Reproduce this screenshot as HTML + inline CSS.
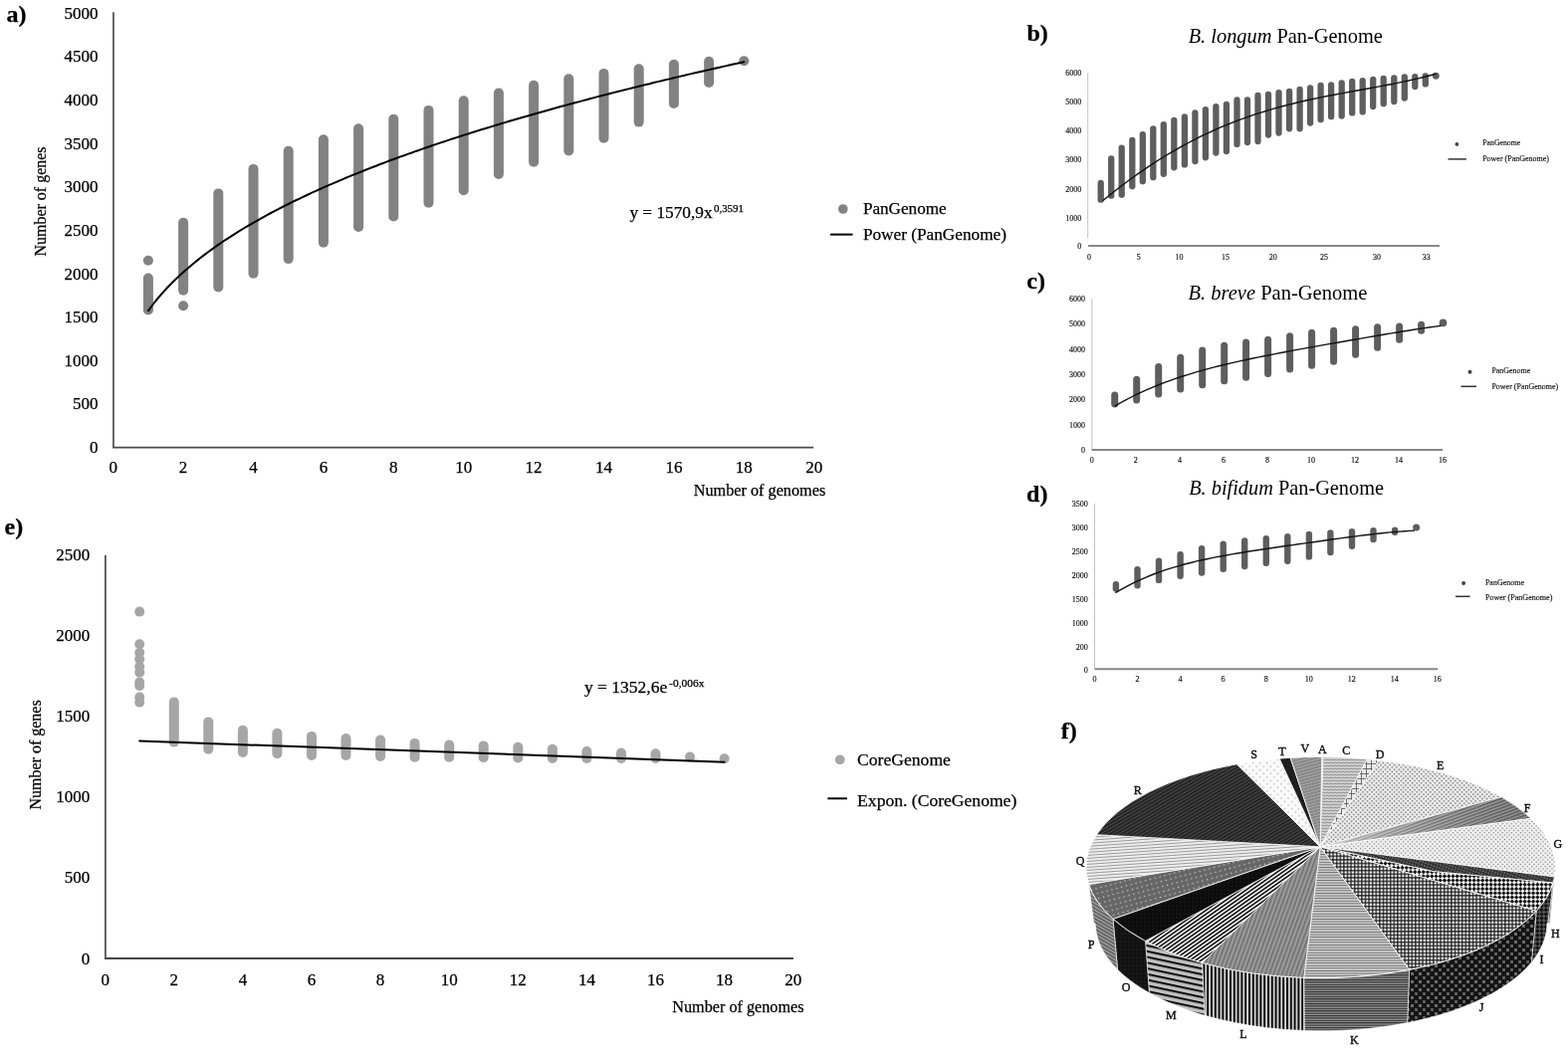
<!DOCTYPE html>
<html><head><meta charset="utf-8"><title>Pan-genome figure</title>
<style>html,body{margin:0;padding:0;background:#fff;}body{width:1575px;height:1053px;position:relative;overflow:hidden;}</style>
</head><body>
<svg width="1575" height="1053" viewBox="0 0 1575 1053" style="position:absolute;left:0;top:0">
<g style="font-family:'Liberation Serif','Times New Roman',serif" fill="#000">
<line x1="113.95" y1="12.3" x2="113.95" y2="449.6" stroke="#585858" stroke-width="1.8"/>
<line x1="113.1" y1="449.6" x2="817.2" y2="449.6" stroke="#4c4c4c" stroke-width="1.8"/>
<text x="98.4" y="455.1" font-size="17" text-anchor="end"  stroke="currentColor" stroke-width="0.25" style="">0</text>
<text x="98.4" y="411.4" font-size="17" text-anchor="end"  stroke="currentColor" stroke-width="0.25" style="">500</text>
<text x="98.4" y="367.8" font-size="17" text-anchor="end"  stroke="currentColor" stroke-width="0.25" style="">1000</text>
<text x="98.4" y="324.1" font-size="17" text-anchor="end"  stroke="currentColor" stroke-width="0.25" style="">1500</text>
<text x="98.4" y="280.5" font-size="17" text-anchor="end"  stroke="currentColor" stroke-width="0.25" style="">2000</text>
<text x="98.4" y="236.8" font-size="17" text-anchor="end"  stroke="currentColor" stroke-width="0.25" style="">2500</text>
<text x="98.4" y="193.2" font-size="17" text-anchor="end"  stroke="currentColor" stroke-width="0.25" style="">3000</text>
<text x="98.4" y="149.5" font-size="17" text-anchor="end"  stroke="currentColor" stroke-width="0.25" style="">3500</text>
<text x="98.4" y="105.9" font-size="17" text-anchor="end"  stroke="currentColor" stroke-width="0.25" style="">4000</text>
<text x="98.4" y="62.2" font-size="17" text-anchor="end"  stroke="currentColor" stroke-width="0.25" style="">4500</text>
<text x="98.4" y="18.6" font-size="17" text-anchor="end"  stroke="currentColor" stroke-width="0.25" style="">5000</text>
<text x="113.7" y="475.0" font-size="17" text-anchor="middle"  stroke="currentColor" stroke-width="0.25" style="">0</text>
<text x="184.1" y="475.0" font-size="17" text-anchor="middle"  stroke="currentColor" stroke-width="0.25" style="">2</text>
<text x="254.5" y="475.0" font-size="17" text-anchor="middle"  stroke="currentColor" stroke-width="0.25" style="">4</text>
<text x="324.9" y="475.0" font-size="17" text-anchor="middle"  stroke="currentColor" stroke-width="0.25" style="">6</text>
<text x="395.3" y="475.0" font-size="17" text-anchor="middle"  stroke="currentColor" stroke-width="0.25" style="">8</text>
<text x="465.7" y="475.0" font-size="17" text-anchor="middle"  stroke="currentColor" stroke-width="0.25" style="">10</text>
<text x="536.1" y="475.0" font-size="17" text-anchor="middle"  stroke="currentColor" stroke-width="0.25" style="">12</text>
<text x="606.5" y="475.0" font-size="17" text-anchor="middle"  stroke="currentColor" stroke-width="0.25" style="">14</text>
<text x="676.9" y="475.0" font-size="17" text-anchor="middle"  stroke="currentColor" stroke-width="0.25" style="">16</text>
<text x="747.3" y="475.0" font-size="17" text-anchor="middle"  stroke="currentColor" stroke-width="0.25" style="">18</text>
<text x="817.7" y="475.0" font-size="17" text-anchor="middle"  stroke="currentColor" stroke-width="0.25" style="">20</text>
<text transform="translate(46.3,202.5) rotate(-90)" font-size="16" text-anchor="middle" stroke="#000" stroke-width="0.25">Number of genes</text>
<text x="696.8" y="498.0" font-size="16" text-anchor="start" textLength="132.4" lengthAdjust="spacingAndGlyphs"  stroke="currentColor" stroke-width="0.25" style="">Number of genomes</text>
<line x1="148.9" y1="279.5" x2="148.9" y2="311.5" stroke="#828282" stroke-width="10.0" stroke-linecap="round"/>
<circle cx="148.9" cy="261.8" r="5.0" fill="#828282"/>
<line x1="184.1" y1="223.8" x2="184.1" y2="291.8" stroke="#828282" stroke-width="10.0" stroke-linecap="round"/>
<circle cx="184.1" cy="307.3" r="5.0" fill="#828282"/>
<line x1="219.3" y1="194.4" x2="219.3" y2="288.5" stroke="#828282" stroke-width="10.0" stroke-linecap="round"/>
<line x1="254.5" y1="169.9" x2="254.5" y2="274.8" stroke="#828282" stroke-width="10.0" stroke-linecap="round"/>
<line x1="289.7" y1="151.8" x2="289.7" y2="260.1" stroke="#828282" stroke-width="10.0" stroke-linecap="round"/>
<line x1="324.9" y1="140.2" x2="324.9" y2="243.7" stroke="#828282" stroke-width="10.0" stroke-linecap="round"/>
<line x1="360.1" y1="129.3" x2="360.1" y2="228.0" stroke="#828282" stroke-width="10.0" stroke-linecap="round"/>
<line x1="395.3" y1="119.7" x2="395.3" y2="217.5" stroke="#828282" stroke-width="10.0" stroke-linecap="round"/>
<line x1="430.5" y1="110.9" x2="430.5" y2="203.8" stroke="#828282" stroke-width="10.0" stroke-linecap="round"/>
<line x1="465.7" y1="101.3" x2="465.7" y2="191.2" stroke="#828282" stroke-width="10.0" stroke-linecap="round"/>
<line x1="500.9" y1="93.6" x2="500.9" y2="175.0" stroke="#828282" stroke-width="10.0" stroke-linecap="round"/>
<line x1="536.1" y1="85.8" x2="536.1" y2="162.8" stroke="#828282" stroke-width="10.0" stroke-linecap="round"/>
<line x1="571.3" y1="79.3" x2="571.3" y2="151.4" stroke="#828282" stroke-width="10.0" stroke-linecap="round"/>
<line x1="606.5" y1="73.9" x2="606.5" y2="138.8" stroke="#828282" stroke-width="10.0" stroke-linecap="round"/>
<line x1="641.7" y1="69.2" x2="641.7" y2="122.6" stroke="#828282" stroke-width="10.0" stroke-linecap="round"/>
<line x1="676.9" y1="64.7" x2="676.9" y2="103.9" stroke="#828282" stroke-width="10.0" stroke-linecap="round"/>
<line x1="712.1" y1="61.7" x2="712.1" y2="82.9" stroke="#828282" stroke-width="10.0" stroke-linecap="round"/>
<circle cx="747.3" cy="61.2" r="5.0" fill="#828282"/>
<path d="M148.9,312.3 L152.4,307.5 L155.9,303.0 L159.5,298.7 L163.0,294.6 L166.5,290.8 L170.0,287.0 L173.5,283.5 L177.1,280.0 L180.6,276.7 L184.1,273.5 L187.6,270.4 L191.1,267.4 L194.7,264.4 L198.2,261.6 L201.7,258.8 L205.2,256.1 L208.7,253.5 L212.3,250.9 L215.8,248.4 L219.3,245.9 L222.8,243.5 L226.3,241.2 L229.9,238.8 L233.4,236.6 L236.9,234.4 L240.4,232.2 L243.9,230.0 L247.5,227.9 L251.0,225.8 L254.5,223.8 L258.0,221.8 L261.5,219.8 L265.1,217.9 L268.6,215.9 L272.1,214.0 L275.6,212.2 L279.1,210.3 L282.7,208.5 L286.2,206.7 L289.7,205.0 L293.2,203.2 L296.7,201.5 L300.3,199.8 L303.8,198.1 L307.3,196.5 L310.8,194.8 L314.3,193.2 L317.9,191.6 L321.4,190.0 L324.9,188.4 L328.4,186.9 L331.9,185.3 L335.5,183.8 L339.0,182.3 L342.5,180.8 L346.0,179.3 L349.5,177.9 L353.1,176.4 L356.6,175.0 L360.1,173.6 L363.6,172.2 L367.1,170.8 L370.7,169.4 L374.2,168.0 L377.7,166.7 L381.2,165.3 L384.7,164.0 L388.3,162.6 L391.8,161.3 L395.3,160.0 L398.8,158.7 L402.3,157.4 L405.9,156.2 L409.4,154.9 L412.9,153.7 L416.4,152.4 L419.9,151.2 L423.5,149.9 L427.0,148.7 L430.5,147.5 L434.0,146.3 L437.5,145.1 L441.1,143.9 L444.6,142.8 L448.1,141.6 L451.6,140.4 L455.1,139.3 L458.7,138.1 L462.2,137.0 L465.7,135.9 L469.2,134.8 L472.7,133.6 L476.3,132.5 L479.8,131.4 L483.3,130.3 L486.8,129.3 L490.3,128.2 L493.9,127.1 L497.4,126.0 L500.9,125.0 L504.4,123.9 L507.9,122.9 L511.5,121.8 L515.0,120.8 L518.5,119.7 L522.0,118.7 L525.5,117.7 L529.1,116.7 L532.6,115.7 L536.1,114.7 L539.6,113.7 L543.1,112.7 L546.7,111.7 L550.2,110.7 L553.7,109.7 L557.2,108.8 L560.7,107.8 L564.3,106.8 L567.8,105.9 L571.3,104.9 L574.8,104.0 L578.3,103.0 L581.9,102.1 L585.4,101.1 L588.9,100.2 L592.4,99.3 L595.9,98.4 L599.5,97.4 L603.0,96.5 L606.5,95.6 L610.0,94.7 L613.5,93.8 L617.1,92.9 L620.6,92.0 L624.1,91.1 L627.6,90.2 L631.1,89.4 L634.7,88.5 L638.2,87.6 L641.7,86.7 L645.2,85.9 L648.7,85.0 L652.3,84.2 L655.8,83.3 L659.3,82.4 L662.8,81.6 L666.3,80.8 L669.9,79.9 L673.4,79.1 L676.9,78.2 L680.4,77.4 L683.9,76.6 L687.5,75.8 L691.0,74.9 L694.5,74.1 L698.0,73.3 L701.5,72.5 L705.1,71.7 L708.6,70.9 L712.1,70.1 L715.6,69.3 L719.1,68.5 L722.7,67.7 L726.2,66.9 L729.7,66.1 L733.2,65.3 L736.7,64.5 L740.3,63.8 L743.8,63.0 L747.3,62.2" fill="none" stroke="#000" stroke-width="2" stroke-linejoin="round" stroke-linecap="round"/>
<text x="632.4" y="218.6" font-size="17" text-anchor="start" textLength="83.2" lengthAdjust="spacingAndGlyphs"  stroke="currentColor" stroke-width="0.25" style="">y = 1570,9x</text>
<text x="716.9" y="213.1" font-size="11" text-anchor="start" textLength="30.2" lengthAdjust="spacingAndGlyphs"  stroke="currentColor" stroke-width="0.25" style="">0,3591</text>
<circle cx="846.8" cy="210" r="4.8" fill="#828282"/>
<text x="866.9" y="214.7" font-size="17" text-anchor="start" textLength="83.8" lengthAdjust="spacingAndGlyphs"  stroke="currentColor" stroke-width="0.25" style="">PanGenome</text>
<line x1="833.9" y1="235.6" x2="856.5" y2="235.6" stroke="#000" stroke-width="2"/>
<text x="866.9" y="241.3" font-size="17" text-anchor="start" textLength="144.1" lengthAdjust="spacingAndGlyphs"  stroke="currentColor" stroke-width="0.25" style="">Power (PanGenome)</text>
<text x="6.6" y="22.4" font-size="24" text-anchor="start" font-weight="bold" stroke="currentColor" stroke-width="0.25" style="">a)</text>
<line x1="105.9" y1="557.7" x2="105.9" y2="962.9" stroke="#545454" stroke-width="1.8"/>
<line x1="105.0" y1="962.95" x2="796.9" y2="962.95" stroke="#454545" stroke-width="1.9"/>
<text x="90.2" y="968.6" font-size="17" text-anchor="end"  stroke="currentColor" stroke-width="0.25" style="">0</text>
<text x="90.2" y="887.4" font-size="17" text-anchor="end"  stroke="currentColor" stroke-width="0.25" style="">500</text>
<text x="90.2" y="806.1" font-size="17" text-anchor="end"  stroke="currentColor" stroke-width="0.25" style="">1000</text>
<text x="90.2" y="724.9" font-size="17" text-anchor="end"  stroke="currentColor" stroke-width="0.25" style="">1500</text>
<text x="90.2" y="643.7" font-size="17" text-anchor="end"  stroke="currentColor" stroke-width="0.25" style="">2000</text>
<text x="90.2" y="562.5" font-size="17" text-anchor="end"  stroke="currentColor" stroke-width="0.25" style="">2500</text>
<text x="105.7" y="990.0" font-size="17" text-anchor="middle"  stroke="currentColor" stroke-width="0.25" style="">0</text>
<text x="174.8" y="990.0" font-size="17" text-anchor="middle"  stroke="currentColor" stroke-width="0.25" style="">2</text>
<text x="243.9" y="990.0" font-size="17" text-anchor="middle"  stroke="currentColor" stroke-width="0.25" style="">4</text>
<text x="313.0" y="990.0" font-size="17" text-anchor="middle"  stroke="currentColor" stroke-width="0.25" style="">6</text>
<text x="382.1" y="990.0" font-size="17" text-anchor="middle"  stroke="currentColor" stroke-width="0.25" style="">8</text>
<text x="451.2" y="990.0" font-size="17" text-anchor="middle"  stroke="currentColor" stroke-width="0.25" style="">10</text>
<text x="520.3" y="990.0" font-size="17" text-anchor="middle"  stroke="currentColor" stroke-width="0.25" style="">12</text>
<text x="589.4" y="990.0" font-size="17" text-anchor="middle"  stroke="currentColor" stroke-width="0.25" style="">14</text>
<text x="658.5" y="990.0" font-size="17" text-anchor="middle"  stroke="currentColor" stroke-width="0.25" style="">16</text>
<text x="727.6" y="990.0" font-size="17" text-anchor="middle"  stroke="currentColor" stroke-width="0.25" style="">18</text>
<text x="796.7" y="990.0" font-size="17" text-anchor="middle"  stroke="currentColor" stroke-width="0.25" style="">20</text>
<text transform="translate(41.1,758.4) rotate(-90)" font-size="16" text-anchor="middle" stroke="#000" stroke-width="0.25">Number of genes</text>
<text x="675.3" y="1016.5" font-size="16" text-anchor="start" textLength="132.2" lengthAdjust="spacingAndGlyphs"  stroke="currentColor" stroke-width="0.25" style="">Number of genomes</text>
<circle cx="140.2" cy="614.6" r="5" fill="#a6a6a6"/>
<circle cx="140.2" cy="647.3" r="5" fill="#a6a6a6"/>
<circle cx="140.2" cy="655.7" r="5" fill="#a6a6a6"/>
<circle cx="140.2" cy="662.3" r="5" fill="#a6a6a6"/>
<circle cx="140.2" cy="669.8" r="5" fill="#a6a6a6"/>
<circle cx="140.2" cy="675.6" r="5" fill="#a6a6a6"/>
<circle cx="140.2" cy="685.6" r="5" fill="#a6a6a6"/>
<circle cx="140.2" cy="689.0" r="5" fill="#a6a6a6"/>
<circle cx="140.2" cy="700.5" r="5" fill="#a6a6a6"/>
<circle cx="140.2" cy="705.7" r="5" fill="#a6a6a6"/>
<line x1="174.8" y1="705.5" x2="174.8" y2="745.6" stroke="#a6a6a6" stroke-width="10" stroke-linecap="round"/>
<line x1="209.3" y1="725.4" x2="209.3" y2="752.7" stroke="#a6a6a6" stroke-width="10" stroke-linecap="round"/>
<line x1="243.9" y1="733.7" x2="243.9" y2="756.0" stroke="#a6a6a6" stroke-width="10" stroke-linecap="round"/>
<line x1="278.4" y1="736.7" x2="278.4" y2="757.2" stroke="#a6a6a6" stroke-width="10" stroke-linecap="round"/>
<line x1="313.0" y1="739.9" x2="313.0" y2="758.9" stroke="#a6a6a6" stroke-width="10" stroke-linecap="round"/>
<line x1="347.5" y1="742.0" x2="347.5" y2="759.0" stroke="#a6a6a6" stroke-width="10" stroke-linecap="round"/>
<line x1="382.1" y1="743.6" x2="382.1" y2="760.0" stroke="#a6a6a6" stroke-width="10" stroke-linecap="round"/>
<line x1="416.6" y1="746.9" x2="416.6" y2="760.8" stroke="#a6a6a6" stroke-width="10" stroke-linecap="round"/>
<line x1="451.2" y1="748.5" x2="451.2" y2="760.8" stroke="#a6a6a6" stroke-width="10" stroke-linecap="round"/>
<line x1="485.7" y1="749.4" x2="485.7" y2="761.1" stroke="#a6a6a6" stroke-width="10" stroke-linecap="round"/>
<line x1="520.3" y1="750.8" x2="520.3" y2="761.5" stroke="#a6a6a6" stroke-width="10" stroke-linecap="round"/>
<line x1="554.9" y1="752.7" x2="554.9" y2="762.0" stroke="#a6a6a6" stroke-width="10" stroke-linecap="round"/>
<line x1="589.4" y1="755.0" x2="589.4" y2="762.0" stroke="#a6a6a6" stroke-width="10" stroke-linecap="round"/>
<line x1="624.0" y1="756.6" x2="624.0" y2="762.0" stroke="#a6a6a6" stroke-width="10" stroke-linecap="round"/>
<line x1="658.5" y1="757.3" x2="658.5" y2="762.0" stroke="#a6a6a6" stroke-width="10" stroke-linecap="round"/>
<circle cx="693.0" cy="760.6" r="5" fill="#a6a6a6"/>
<circle cx="727.6" cy="762.2" r="5" fill="#a6a6a6"/>
<path d="M140.2,744.5 L727.6,765.7" fill="none" stroke="#000" stroke-width="2" stroke-linejoin="round" stroke-linecap="round"/>
<text x="586.9" y="695.5" font-size="17" text-anchor="start" textLength="83.3" lengthAdjust="spacingAndGlyphs"  stroke="currentColor" stroke-width="0.25" style="">y = 1352,6e</text>
<text x="672.1" y="689.5" font-size="11" text-anchor="start" textLength="35.3" lengthAdjust="spacingAndGlyphs"  stroke="currentColor" stroke-width="0.25" style="">-0,006x</text>
<circle cx="843.7" cy="763.3" r="4.9" fill="#a6a6a6"/>
<text x="861.1" y="769.0" font-size="17.5" text-anchor="start" textLength="93.8" lengthAdjust="spacingAndGlyphs"  stroke="currentColor" stroke-width="0.25" style="">CoreGenome</text>
<line x1="831.3" y1="802.3" x2="850.9" y2="802.3" stroke="#000" stroke-width="2"/>
<text x="861.1" y="809.7" font-size="17.5" text-anchor="start" textLength="160.2" lengthAdjust="spacingAndGlyphs"  stroke="currentColor" stroke-width="0.25" style="">Expon. (CoreGenome)</text>
<text x="4.5" y="537.0" font-size="24" text-anchor="start" font-weight="bold" stroke="currentColor" stroke-width="0.25" style="">e)</text>
<text x="1031.5" y="41.0" font-size="24" text-anchor="start" font-weight="bold" stroke="currentColor" stroke-width="0.25" style="">b)</text>
<text x="1193.7" y="42.5" font-size="20.4" textLength="195.1" lengthAdjust="spacingAndGlyphs"><tspan font-style="italic">B. longum </tspan>Pan-Genome</text>
<line x1="1092.7" y1="73.3" x2="1092.7" y2="239.4" stroke="#c4c4c4" stroke-width="1"/>
<line x1="1093.1" y1="247.1" x2="1445.9" y2="247.1" stroke="#888" stroke-width="2"/>
<text x="1086.3" y="76.0" font-size="8" text-anchor="end"  stroke="currentColor" stroke-width="0.16" style="fill:#222">6000</text>
<text x="1086.3" y="104.7" font-size="8" text-anchor="end"  stroke="currentColor" stroke-width="0.16" style="fill:#222">5000</text>
<text x="1086.3" y="134.2" font-size="8" text-anchor="end"  stroke="currentColor" stroke-width="0.16" style="fill:#222">4000</text>
<text x="1086.3" y="163.3" font-size="8" text-anchor="end"  stroke="currentColor" stroke-width="0.16" style="fill:#222">3000</text>
<text x="1086.3" y="192.5" font-size="8" text-anchor="end"  stroke="currentColor" stroke-width="0.16" style="fill:#222">2000</text>
<text x="1086.3" y="221.7" font-size="8" text-anchor="end"  stroke="currentColor" stroke-width="0.16" style="fill:#222">1000</text>
<text x="1086.3" y="250.0" font-size="8" text-anchor="end"  stroke="currentColor" stroke-width="0.16" style="fill:#222">0</text>
<text x="1093.9" y="261.0" font-size="8" text-anchor="middle"  stroke="currentColor" stroke-width="0.16" style="fill:#222">0</text>
<text x="1143.8" y="261.0" font-size="8" text-anchor="middle"  stroke="currentColor" stroke-width="0.16" style="fill:#222">5</text>
<text x="1184.4" y="261.0" font-size="8" text-anchor="middle"  stroke="currentColor" stroke-width="0.16" style="fill:#222">10</text>
<text x="1231.0" y="261.0" font-size="8" text-anchor="middle"  stroke="currentColor" stroke-width="0.16" style="fill:#222">15</text>
<text x="1278.7" y="261.0" font-size="8" text-anchor="middle"  stroke="currentColor" stroke-width="0.16" style="fill:#222">20</text>
<text x="1330.1" y="261.0" font-size="8" text-anchor="middle"  stroke="currentColor" stroke-width="0.16" style="fill:#222">25</text>
<text x="1382.9" y="261.0" font-size="8" text-anchor="middle"  stroke="currentColor" stroke-width="0.16" style="fill:#222">30</text>
<text x="1432.7" y="261.0" font-size="8" text-anchor="middle"  stroke="currentColor" stroke-width="0.16" style="fill:#222">33</text>
<line x1="1105.7" y1="184.0" x2="1105.7" y2="200.7" stroke="#5e5e5e" stroke-width="6.3" stroke-linecap="round"/>
<line x1="1116.2" y1="159.3" x2="1116.2" y2="196.7" stroke="#5e5e5e" stroke-width="6.3" stroke-linecap="round"/>
<line x1="1126.7" y1="148.6" x2="1126.7" y2="195.7" stroke="#5e5e5e" stroke-width="6.3" stroke-linecap="round"/>
<line x1="1137.3" y1="140.8" x2="1137.3" y2="187.2" stroke="#5e5e5e" stroke-width="6.3" stroke-linecap="round"/>
<line x1="1147.8" y1="135.1" x2="1147.8" y2="182.2" stroke="#5e5e5e" stroke-width="6.3" stroke-linecap="round"/>
<line x1="1158.3" y1="129.4" x2="1158.3" y2="178.2" stroke="#5e5e5e" stroke-width="6.3" stroke-linecap="round"/>
<line x1="1168.8" y1="125.1" x2="1168.8" y2="174.8" stroke="#5e5e5e" stroke-width="6.3" stroke-linecap="round"/>
<line x1="1179.3" y1="120.9" x2="1179.3" y2="168.3" stroke="#5e5e5e" stroke-width="6.3" stroke-linecap="round"/>
<line x1="1189.9" y1="117.3" x2="1189.9" y2="165.4" stroke="#5e5e5e" stroke-width="6.3" stroke-linecap="round"/>
<line x1="1200.4" y1="113.3" x2="1200.4" y2="162.0" stroke="#5e5e5e" stroke-width="6.3" stroke-linecap="round"/>
<line x1="1210.9" y1="110.2" x2="1210.9" y2="158.3" stroke="#5e5e5e" stroke-width="6.3" stroke-linecap="round"/>
<line x1="1221.4" y1="107.1" x2="1221.4" y2="153.5" stroke="#5e5e5e" stroke-width="6.3" stroke-linecap="round"/>
<line x1="1231.9" y1="104.8" x2="1231.9" y2="152.0" stroke="#5e5e5e" stroke-width="6.3" stroke-linecap="round"/>
<line x1="1242.5" y1="100.5" x2="1242.5" y2="144.9" stroke="#5e5e5e" stroke-width="6.3" stroke-linecap="round"/>
<line x1="1253.0" y1="100.5" x2="1253.0" y2="143.1" stroke="#5e5e5e" stroke-width="6.3" stroke-linecap="round"/>
<line x1="1263.5" y1="96.0" x2="1263.5" y2="142.1" stroke="#5e5e5e" stroke-width="6.3" stroke-linecap="round"/>
<line x1="1274.0" y1="94.8" x2="1274.0" y2="135.6" stroke="#5e5e5e" stroke-width="6.3" stroke-linecap="round"/>
<line x1="1284.5" y1="93.1" x2="1284.5" y2="133.5" stroke="#5e5e5e" stroke-width="6.3" stroke-linecap="round"/>
<line x1="1295.1" y1="91.9" x2="1295.1" y2="129.3" stroke="#5e5e5e" stroke-width="6.3" stroke-linecap="round"/>
<line x1="1305.6" y1="90.0" x2="1305.6" y2="129.3" stroke="#5e5e5e" stroke-width="6.3" stroke-linecap="round"/>
<line x1="1316.1" y1="88.3" x2="1316.1" y2="123.5" stroke="#5e5e5e" stroke-width="6.3" stroke-linecap="round"/>
<line x1="1326.6" y1="85.9" x2="1326.6" y2="120.2" stroke="#5e5e5e" stroke-width="6.3" stroke-linecap="round"/>
<line x1="1337.1" y1="85.5" x2="1337.1" y2="117.2" stroke="#5e5e5e" stroke-width="6.3" stroke-linecap="round"/>
<line x1="1347.7" y1="83.5" x2="1347.7" y2="116.6" stroke="#5e5e5e" stroke-width="6.3" stroke-linecap="round"/>
<line x1="1358.2" y1="81.9" x2="1358.2" y2="113.4" stroke="#5e5e5e" stroke-width="6.3" stroke-linecap="round"/>
<line x1="1368.7" y1="81.1" x2="1368.7" y2="112.4" stroke="#5e5e5e" stroke-width="6.3" stroke-linecap="round"/>
<line x1="1379.2" y1="79.8" x2="1379.2" y2="107.0" stroke="#5e5e5e" stroke-width="6.3" stroke-linecap="round"/>
<line x1="1389.7" y1="78.9" x2="1389.7" y2="104.2" stroke="#5e5e5e" stroke-width="6.3" stroke-linecap="round"/>
<line x1="1400.3" y1="78.3" x2="1400.3" y2="102.1" stroke="#5e5e5e" stroke-width="6.3" stroke-linecap="round"/>
<line x1="1410.8" y1="77.4" x2="1410.8" y2="98.5" stroke="#5e5e5e" stroke-width="6.3" stroke-linecap="round"/>
<line x1="1421.3" y1="77.1" x2="1421.3" y2="87.1" stroke="#5e5e5e" stroke-width="6.3" stroke-linecap="round"/>
<line x1="1431.8" y1="76.5" x2="1431.8" y2="84.4" stroke="#5e5e5e" stroke-width="6.3" stroke-linecap="round"/>
<circle cx="1442.3" cy="76.3" r="3.4499999999999997" fill="#5e5e5e"/>
<path d="M1107.5,201.8 L1113.2,197.2 L1118.8,192.7 L1124.5,188.3 L1130.2,184.0 L1135.9,179.8 L1141.5,175.7 L1147.2,171.8 L1152.9,167.9 L1158.6,164.2 L1164.2,160.5 L1169.9,157.0 L1175.6,153.6 L1181.3,150.3 L1186.9,147.1 L1192.6,144.0 L1198.3,141.1 L1204.0,138.2 L1209.6,135.4 L1215.3,132.8 L1221.0,130.2 L1226.7,127.7 L1232.3,125.4 L1238.0,123.1 L1243.7,120.9 L1249.4,118.8 L1255.0,116.9 L1260.7,114.9 L1266.4,113.1 L1272.1,111.4 L1277.7,109.7 L1283.4,108.1 L1289.1,106.5 L1294.8,105.1 L1300.4,103.7 L1306.1,102.3 L1311.8,101.0 L1317.5,99.8 L1323.1,98.6 L1328.8,97.4 L1334.5,96.3 L1340.2,95.2 L1345.8,94.1 L1351.5,93.1 L1357.2,92.0 L1362.9,91.0 L1368.5,90.0 L1374.2,89.0 L1379.9,87.9 L1385.6,86.9 L1391.2,85.8 L1396.9,84.7 L1402.6,83.6 L1408.3,82.4 L1413.9,81.2 L1419.6,79.9 L1425.3,78.6 L1431.0,77.2 L1436.6,75.7 L1442.3,74.2" fill="none" stroke="#111" stroke-width="1.4" stroke-linejoin="round"/>
<circle cx="1463.4" cy="144.9" r="1.9" fill="#444"/>
<text x="1489.2" y="145.6" font-size="7.8" text-anchor="start" textLength="38.1" lengthAdjust="spacingAndGlyphs"  stroke="currentColor" stroke-width="0.16" style="fill:#222">PanGenome</text>
<line x1="1454.5" y1="159.9" x2="1472.8" y2="159.9" stroke="#333" stroke-width="1.5"/>
<text x="1489.2" y="162.4" font-size="7.8" text-anchor="start" textLength="66.7" lengthAdjust="spacingAndGlyphs"  stroke="currentColor" stroke-width="0.16" style="fill:#222">Power (PanGenome)</text>
<text x="1031.3" y="289.9" font-size="24" text-anchor="start" font-weight="bold" stroke="currentColor" stroke-width="0.25" style="">c)</text>
<text x="1193.5" y="300.9" font-size="20.4" textLength="179.8" lengthAdjust="spacingAndGlyphs"><tspan font-style="italic">B. breve </tspan>Pan-Genome</text>
<line x1="1096.8" y1="300" x2="1096.8" y2="452" stroke="#c4c4c4" stroke-width="1"/>
<line x1="1096.8" y1="452.1" x2="1449.1" y2="452.1" stroke="#888" stroke-width="2"/>
<text x="1090.0" y="302.6" font-size="8" text-anchor="end"  stroke="currentColor" stroke-width="0.16" style="fill:#222">6000</text>
<text x="1090.0" y="327.9" font-size="8" text-anchor="end"  stroke="currentColor" stroke-width="0.16" style="fill:#222">5000</text>
<text x="1090.0" y="353.5" font-size="8" text-anchor="end"  stroke="currentColor" stroke-width="0.16" style="fill:#222">4000</text>
<text x="1090.0" y="379.0" font-size="8" text-anchor="end"  stroke="currentColor" stroke-width="0.16" style="fill:#222">3000</text>
<text x="1090.0" y="404.3" font-size="8" text-anchor="end"  stroke="currentColor" stroke-width="0.16" style="fill:#222">2000</text>
<text x="1090.0" y="429.7" font-size="8" text-anchor="end"  stroke="currentColor" stroke-width="0.16" style="fill:#222">1000</text>
<text x="1090.0" y="454.8" font-size="8" text-anchor="end"  stroke="currentColor" stroke-width="0.16" style="fill:#222">0</text>
<text x="1096.8" y="464.8" font-size="8" text-anchor="middle"  stroke="currentColor" stroke-width="0.16" style="fill:#222">0</text>
<text x="1140.8" y="464.8" font-size="8" text-anchor="middle"  stroke="currentColor" stroke-width="0.16" style="fill:#222">2</text>
<text x="1184.9" y="464.8" font-size="8" text-anchor="middle"  stroke="currentColor" stroke-width="0.16" style="fill:#222">4</text>
<text x="1228.9" y="464.8" font-size="8" text-anchor="middle"  stroke="currentColor" stroke-width="0.16" style="fill:#222">6</text>
<text x="1273.0" y="464.8" font-size="8" text-anchor="middle"  stroke="currentColor" stroke-width="0.16" style="fill:#222">8</text>
<text x="1317.0" y="464.8" font-size="8" text-anchor="middle"  stroke="currentColor" stroke-width="0.16" style="fill:#222">10</text>
<text x="1361.0" y="464.8" font-size="8" text-anchor="middle"  stroke="currentColor" stroke-width="0.16" style="fill:#222">12</text>
<text x="1405.1" y="464.8" font-size="8" text-anchor="middle"  stroke="currentColor" stroke-width="0.16" style="fill:#222">14</text>
<text x="1449.1" y="464.8" font-size="8" text-anchor="middle"  stroke="currentColor" stroke-width="0.16" style="fill:#222">16</text>
<line x1="1119.7" y1="397.1" x2="1119.7" y2="406.1" stroke="#5e5e5e" stroke-width="7.0" stroke-linecap="round"/>
<line x1="1141.7" y1="381.2" x2="1141.7" y2="402.1" stroke="#5e5e5e" stroke-width="7.0" stroke-linecap="round"/>
<line x1="1163.7" y1="368.6" x2="1163.7" y2="396.1" stroke="#5e5e5e" stroke-width="7.0" stroke-linecap="round"/>
<line x1="1185.7" y1="359.2" x2="1185.7" y2="391.1" stroke="#5e5e5e" stroke-width="7.0" stroke-linecap="round"/>
<line x1="1207.7" y1="351.9" x2="1207.7" y2="386.7" stroke="#5e5e5e" stroke-width="7.0" stroke-linecap="round"/>
<line x1="1229.7" y1="347.3" x2="1229.7" y2="382.8" stroke="#5e5e5e" stroke-width="7.0" stroke-linecap="round"/>
<line x1="1251.6" y1="343.9" x2="1251.6" y2="379.2" stroke="#5e5e5e" stroke-width="7.0" stroke-linecap="round"/>
<line x1="1273.6" y1="341.3" x2="1273.6" y2="375.6" stroke="#5e5e5e" stroke-width="7.0" stroke-linecap="round"/>
<line x1="1295.6" y1="337.8" x2="1295.6" y2="371.0" stroke="#5e5e5e" stroke-width="7.0" stroke-linecap="round"/>
<line x1="1317.6" y1="334.3" x2="1317.6" y2="367.2" stroke="#5e5e5e" stroke-width="7.0" stroke-linecap="round"/>
<line x1="1339.6" y1="332.3" x2="1339.6" y2="363.2" stroke="#5e5e5e" stroke-width="7.0" stroke-linecap="round"/>
<line x1="1361.6" y1="330.7" x2="1361.6" y2="356.2" stroke="#5e5e5e" stroke-width="7.0" stroke-linecap="round"/>
<line x1="1383.6" y1="328.7" x2="1383.6" y2="349.3" stroke="#5e5e5e" stroke-width="7.0" stroke-linecap="round"/>
<line x1="1405.6" y1="327.9" x2="1405.6" y2="341.3" stroke="#5e5e5e" stroke-width="7.0" stroke-linecap="round"/>
<line x1="1427.6" y1="326.3" x2="1427.6" y2="332.3" stroke="#5e5e5e" stroke-width="7.0" stroke-linecap="round"/>
<circle cx="1449.5" cy="324.4" r="3.8" fill="#5e5e5e"/>
<path d="M1119.7,408.1 L1125.3,404.9 L1130.8,401.9 L1136.4,399.0 L1141.9,396.2 L1147.5,393.6 L1153.0,391.2 L1158.6,388.8 L1164.1,386.5 L1169.7,384.4 L1175.3,382.4 L1180.8,380.4 L1186.4,378.5 L1191.9,376.8 L1197.5,375.1 L1203.0,373.4 L1208.6,371.9 L1214.2,370.4 L1219.7,368.9 L1225.3,367.5 L1230.8,366.2 L1236.4,364.9 L1241.9,363.6 L1247.5,362.4 L1253.0,361.2 L1258.6,360.0 L1264.2,358.9 L1269.7,357.8 L1275.3,356.7 L1280.8,355.6 L1286.4,354.5 L1291.9,353.5 L1297.5,352.4 L1303.0,351.4 L1308.6,350.4 L1314.2,349.4 L1319.7,348.4 L1325.3,347.4 L1330.8,346.4 L1336.4,345.4 L1341.9,344.5 L1347.5,343.5 L1353.0,342.5 L1358.6,341.5 L1364.2,340.6 L1369.7,339.6 L1375.3,338.6 L1380.8,337.7 L1386.4,336.7 L1391.9,335.8 L1397.5,334.9 L1403.1,334.0 L1408.6,333.0 L1414.2,332.2 L1419.7,331.3 L1425.3,330.4 L1430.8,329.6 L1436.4,328.8 L1441.9,328.1 L1447.5,327.3" fill="none" stroke="#111" stroke-width="1.4" stroke-linejoin="round"/>
<circle cx="1476.5" cy="373.7" r="2.0" fill="#444"/>
<text x="1498.4" y="374.7" font-size="7.8" text-anchor="start" textLength="38.9" lengthAdjust="spacingAndGlyphs"  stroke="currentColor" stroke-width="0.16" style="fill:#222">PanGenome</text>
<line x1="1467.5" y1="388.3" x2="1483" y2="388.3" stroke="#333" stroke-width="1.5"/>
<text x="1498.4" y="390.6" font-size="7.8" text-anchor="start" textLength="66.8" lengthAdjust="spacingAndGlyphs"  stroke="currentColor" stroke-width="0.16" style="fill:#222">Power (PanGenome)</text>
<text x="1031.1" y="503.9" font-size="24" text-anchor="start" font-weight="bold" stroke="currentColor" stroke-width="0.25" style="">d)</text>
<text x="1194.2" y="497.4" font-size="20.4" textLength="195.8" lengthAdjust="spacingAndGlyphs"><tspan font-style="italic">B. bifidum </tspan>Pan-Genome</text>
<line x1="1099.5" y1="506" x2="1099.5" y2="672" stroke="#c4c4c4" stroke-width="1"/>
<line x1="1099.5" y1="672.3" x2="1444.1" y2="672.3" stroke="#888" stroke-width="2"/>
<text x="1092.7" y="508.7" font-size="8" text-anchor="end"  stroke="currentColor" stroke-width="0.16" style="fill:#222">3500</text>
<text x="1092.7" y="532.8" font-size="8" text-anchor="end"  stroke="currentColor" stroke-width="0.16" style="fill:#222">3000</text>
<text x="1092.7" y="557.2" font-size="8" text-anchor="end"  stroke="currentColor" stroke-width="0.16" style="fill:#222">2500</text>
<text x="1092.7" y="580.9" font-size="8" text-anchor="end"  stroke="currentColor" stroke-width="0.16" style="fill:#222">2000</text>
<text x="1092.7" y="604.9" font-size="8" text-anchor="end"  stroke="currentColor" stroke-width="0.16" style="fill:#222">1500</text>
<text x="1092.7" y="629.0" font-size="8" text-anchor="end"  stroke="currentColor" stroke-width="0.16" style="fill:#222">1000</text>
<text x="1092.7" y="652.5" font-size="8" text-anchor="end"  stroke="currentColor" stroke-width="0.16" style="fill:#222">200</text>
<text x="1092.7" y="676.0" font-size="8" text-anchor="end"  stroke="currentColor" stroke-width="0.16" style="fill:#222">0</text>
<text x="1099.5" y="684.6" font-size="8" text-anchor="middle"  stroke="currentColor" stroke-width="0.16" style="fill:#222">0</text>
<text x="1142.5" y="684.6" font-size="8" text-anchor="middle"  stroke="currentColor" stroke-width="0.16" style="fill:#222">2</text>
<text x="1185.6" y="684.6" font-size="8" text-anchor="middle"  stroke="currentColor" stroke-width="0.16" style="fill:#222">4</text>
<text x="1228.6" y="684.6" font-size="8" text-anchor="middle"  stroke="currentColor" stroke-width="0.16" style="fill:#222">6</text>
<text x="1271.7" y="684.6" font-size="8" text-anchor="middle"  stroke="currentColor" stroke-width="0.16" style="fill:#222">8</text>
<text x="1314.7" y="684.6" font-size="8" text-anchor="middle"  stroke="currentColor" stroke-width="0.16" style="fill:#222">10</text>
<text x="1357.7" y="684.6" font-size="8" text-anchor="middle"  stroke="currentColor" stroke-width="0.16" style="fill:#222">12</text>
<text x="1400.8" y="684.6" font-size="8" text-anchor="middle"  stroke="currentColor" stroke-width="0.16" style="fill:#222">14</text>
<text x="1443.8" y="684.6" font-size="8" text-anchor="middle"  stroke="currentColor" stroke-width="0.16" style="fill:#222">16</text>
<line x1="1120.9" y1="587.2" x2="1120.9" y2="591.5" stroke="#5e5e5e" stroke-width="6.4" stroke-linecap="round"/>
<line x1="1142.5" y1="572.2" x2="1142.5" y2="588.3" stroke="#5e5e5e" stroke-width="6.4" stroke-linecap="round"/>
<line x1="1164.0" y1="563.7" x2="1164.0" y2="582.9" stroke="#5e5e5e" stroke-width="6.4" stroke-linecap="round"/>
<line x1="1185.6" y1="557.3" x2="1185.6" y2="578.7" stroke="#5e5e5e" stroke-width="6.4" stroke-linecap="round"/>
<line x1="1207.1" y1="551.3" x2="1207.1" y2="575.5" stroke="#5e5e5e" stroke-width="6.4" stroke-linecap="round"/>
<line x1="1228.7" y1="546.6" x2="1228.7" y2="571.8" stroke="#5e5e5e" stroke-width="6.4" stroke-linecap="round"/>
<line x1="1250.2" y1="543.4" x2="1250.2" y2="569.0" stroke="#5e5e5e" stroke-width="6.4" stroke-linecap="round"/>
<line x1="1271.8" y1="541.2" x2="1271.8" y2="565.8" stroke="#5e5e5e" stroke-width="6.4" stroke-linecap="round"/>
<line x1="1293.3" y1="539.1" x2="1293.3" y2="563.7" stroke="#5e5e5e" stroke-width="6.4" stroke-linecap="round"/>
<line x1="1314.9" y1="536.9" x2="1314.9" y2="559.4" stroke="#5e5e5e" stroke-width="6.4" stroke-linecap="round"/>
<line x1="1336.4" y1="535.5" x2="1336.4" y2="555.1" stroke="#5e5e5e" stroke-width="6.4" stroke-linecap="round"/>
<line x1="1358.0" y1="534.2" x2="1358.0" y2="548.7" stroke="#5e5e5e" stroke-width="6.4" stroke-linecap="round"/>
<line x1="1379.5" y1="533.3" x2="1379.5" y2="541.9" stroke="#5e5e5e" stroke-width="6.4" stroke-linecap="round"/>
<line x1="1401.1" y1="532.7" x2="1401.1" y2="534.8" stroke="#5e5e5e" stroke-width="6.4" stroke-linecap="round"/>
<circle cx="1422.6" cy="530.1" r="3.5" fill="#5e5e5e"/>
<path d="M1120.4,595.7 L1125.5,592.7 L1130.6,589.8 L1135.7,587.2 L1140.8,584.7 L1145.9,582.3 L1151.0,580.1 L1156.1,578.0 L1161.2,576.0 L1166.3,574.2 L1171.3,572.4 L1176.4,570.8 L1181.5,569.3 L1186.6,567.8 L1191.7,566.5 L1196.8,565.2 L1201.9,563.9 L1207.0,562.8 L1212.1,561.7 L1217.2,560.6 L1222.3,559.6 L1227.4,558.7 L1232.5,557.7 L1237.6,556.9 L1242.7,556.0 L1247.8,555.2 L1252.9,554.3 L1258.0,553.5 L1263.1,552.8 L1268.2,552.0 L1273.2,551.2 L1278.3,550.5 L1283.4,549.8 L1288.5,549.0 L1293.6,548.3 L1298.7,547.6 L1303.8,546.8 L1308.9,546.1 L1314.0,545.4 L1319.1,544.7 L1324.2,544.0 L1329.3,543.3 L1334.4,542.5 L1339.5,541.8 L1344.6,541.1 L1349.7,540.4 L1354.8,539.8 L1359.9,539.1 L1365.0,538.4 L1370.1,537.8 L1375.1,537.2 L1380.2,536.6 L1385.3,536.0 L1390.4,535.5 L1395.5,534.9 L1400.6,534.5 L1405.7,534.1 L1410.8,533.7 L1415.9,533.4 L1421.0,533.1" fill="none" stroke="#111" stroke-width="1.4" stroke-linejoin="round"/>
<circle cx="1470.1" cy="586.1" r="2.0" fill="#444"/>
<text x="1491.9" y="587.8" font-size="7.8" text-anchor="start" textLength="39.1" lengthAdjust="spacingAndGlyphs"  stroke="currentColor" stroke-width="0.16" style="fill:#222">PanGenome</text>
<line x1="1462" y1="599.3" x2="1476.5" y2="599.3" stroke="#333" stroke-width="1.5"/>
<text x="1491.9" y="603.2" font-size="7.8" text-anchor="start" textLength="67.5" lengthAdjust="spacingAndGlyphs"  stroke="currentColor" stroke-width="0.16" style="fill:#222">Power (PanGenome)</text>
<defs>
<pattern id="pC" width="4" height="3" patternUnits="userSpaceOnUse"><rect width="4" height="3" fill="#d4d4d4"/><path d="M0,1.5 Q1,0.5 2,1.5 T4,1.5" stroke="#8a8a8a" stroke-width="1" fill="none"/></pattern>
<pattern id="pD" width="5" height="5" patternUnits="userSpaceOnUse"><rect width="5" height="5" fill="#e6e6e6"/><path d="M0,2.5 H5 M2.5,0 V5" stroke="#555" stroke-width="0.8"/></pattern>
<pattern id="pE" width="3.2" height="3.2" patternUnits="userSpaceOnUse" patternTransform="rotate(45)"><rect width="3.2" height="3.2" fill="#f2f2f2"/><rect x="0.4" y="0.4" width="1.5" height="1.5" fill="#6a6a6a"/></pattern>
<pattern id="pF" width="3" height="3" patternUnits="userSpaceOnUse" patternTransform="rotate(-20)"><rect width="3" height="3" fill="#a8a8a8"/><rect width="3" height="1.4" fill="#5a5a5a"/></pattern>
<pattern id="pG" width="3.2" height="3.2" patternUnits="userSpaceOnUse" patternTransform="rotate(45)"><rect width="3.2" height="3.2" fill="#f4f4f4"/><rect x="0.6" y="0.6" width="1.3" height="1.3" fill="#7a7a7a"/></pattern>
<pattern id="pH" width="3" height="3" patternUnits="userSpaceOnUse" patternTransform="rotate(20)"><rect width="3" height="3" fill="#2a2a2a"/><rect x="0.5" y="0.5" width="1.2" height="1.2" fill="#bbb"/></pattern>
<pattern id="pI" width="6" height="6" patternUnits="userSpaceOnUse" patternTransform="rotate(45)"><rect width="6" height="6" fill="#f0f0f0"/><rect width="3" height="3" fill="#111"/><rect x="3" y="3" width="3" height="3" fill="#111"/></pattern>
<pattern id="pJ" width="3.6" height="3.6" patternUnits="userSpaceOnUse"><rect width="3.6" height="3.6" fill="#111"/><rect x="0.5" y="0.5" width="2.4" height="2.4" fill="#f6f6f6"/></pattern>
<pattern id="pK" width="3" height="2.6" patternUnits="userSpaceOnUse"><rect width="3" height="2.6" fill="#d2d2d2"/><rect width="3" height="1.0" fill="#6e6e6e"/></pattern>
<pattern id="pL" width="4" height="4" patternUnits="userSpaceOnUse" patternTransform="rotate(-70)"><rect width="4" height="4" fill="#9a9a9a"/><rect width="4" height="1.5" fill="#6c6c6c"/></pattern>
<pattern id="pM" width="3.2" height="3.2" patternUnits="userSpaceOnUse" patternTransform="rotate(-35)"><rect width="3.2" height="3.2" fill="#f0f0f0"/><rect width="3.2" height="1.6" fill="#1a1a1a"/></pattern>
<pattern id="pO" width="4" height="4" patternUnits="userSpaceOnUse"><rect width="4" height="4" fill="#0d0d0d"/><circle cx="2" cy="2" r="0.5" fill="#333"/></pattern>
<pattern id="pP" width="5" height="5" patternUnits="userSpaceOnUse" patternTransform="rotate(-15)"><rect width="5" height="5" fill="#666"/><circle cx="2.5" cy="2.5" r="0.8" fill="#c8c8c8"/></pattern>
<pattern id="pQ" width="3" height="3" patternUnits="userSpaceOnUse" patternTransform="rotate(-4)"><rect width="3" height="3" fill="#eeeeee"/><rect width="3" height="1" fill="#9a9a9a"/></pattern>
<pattern id="pR" width="3" height="3" patternUnits="userSpaceOnUse" patternTransform="rotate(-30)"><rect width="3" height="3" fill="#242424"/><rect width="3" height="0.7" fill="#5a5a5a"/></pattern>
<pattern id="pS" width="5" height="5" patternUnits="userSpaceOnUse" patternTransform="rotate(45)"><rect width="5" height="5" fill="#fafafa"/><rect x="1.5" y="1.5" width="1.2" height="1.2" fill="#999"/></pattern>
<pattern id="pV" width="4" height="3" patternUnits="userSpaceOnUse" patternTransform="rotate(-15)"><rect width="4" height="3" fill="#a8a8a8"/><path d="M0,1.5 L1,0.5 L2,1.5 L3,0.5 L4,1.5" stroke="#555" stroke-width="1" fill="none"/></pattern>
<pattern id="pHs" width="3" height="3" patternUnits="userSpaceOnUse"><rect width="3" height="3" fill="#1e1e1e"/><rect x="1" y="1" width="1" height="1" fill="#888"/></pattern>
<pattern id="pIs" width="6" height="6" patternUnits="userSpaceOnUse" patternTransform="rotate(45)"><rect width="6" height="6" fill="#555"/><rect width="3" height="3" fill="#111"/><rect x="3" y="3" width="3" height="3" fill="#111"/></pattern>
<pattern id="pJs" width="8" height="8" patternUnits="userSpaceOnUse"><rect width="8" height="8" fill="#141414"/><rect x="1" y="1" width="3" height="3" fill="#6a6a6a"/><rect x="5" y="5" width="3" height="3" fill="#5a5a5a"/></pattern>
<pattern id="pKs" width="3" height="2.4" patternUnits="userSpaceOnUse"><rect width="3" height="2.4" fill="#9a9a9a"/><rect width="3" height="1.2" fill="#2e2e2e"/></pattern>
<pattern id="pLs" width="3.8" height="3" patternUnits="userSpaceOnUse"><rect width="3.8" height="3" fill="#d8d8d8"/><rect width="2.0" height="3" fill="#0a0a0a"/></pattern>
<pattern id="pMs" width="3" height="5.6" patternUnits="userSpaceOnUse" patternTransform="rotate(12)"><rect width="3" height="5.6" fill="#c2c2c2"/><rect width="3" height="2.1" fill="#0e0e0e"/></pattern>
<pattern id="pOs" width="4" height="4" patternUnits="userSpaceOnUse"><rect width="4" height="4" fill="#121212"/><circle cx="2" cy="2" r="0.5" fill="#3a3a3a"/></pattern>
<pattern id="pPs" width="3" height="3" patternUnits="userSpaceOnUse" patternTransform="rotate(30)"><rect width="3" height="3" fill="#9a9a9a"/><rect width="3" height="1.2" fill="#505050"/></pattern>
<linearGradient id="gF" gradientUnits="userSpaceOnUse" x1="1330" y1="850" x2="1525" y2="810"><stop offset="0" stop-color="#fff" stop-opacity="0.55"/><stop offset="0.5" stop-color="#fff" stop-opacity="0.15"/><stop offset="1" stop-color="#000" stop-opacity="0.1"/></linearGradient>
</defs>
<path d="M1562.20,869.33 L1562.22,869.81 L1562.24,870.30 L1562.24,870.79 L1562.25,871.27 L1562.25,871.76 L1562.25,872.25 L1562.24,872.73 L1562.22,873.22 L1562.21,873.70 L1562.18,874.19 L1562.16,874.68 L1562.13,875.16 L1562.09,875.65 L1562.05,876.14 L1562.00,876.62 L1561.95,877.11 L1561.90,877.59 L1561.84,878.08 L1561.78,878.56 L1561.71,879.05 L1561.64,879.53 L1561.56,880.02 L1561.48,880.50 L1561.40,880.99 L1556.22,927.31 L1556.30,927.31 L1556.38,927.31 L1556.46,927.31 L1556.53,927.31 L1556.59,927.31 L1556.65,927.31 L1556.71,927.31 L1556.76,927.31 L1556.81,927.31 L1556.86,927.31 L1556.90,927.31 L1556.93,927.31 L1556.96,927.31 L1556.99,927.31 L1557.01,927.31 L1557.03,927.31 L1557.04,927.31 L1557.05,927.31 L1557.05,927.31 L1557.05,927.31 L1557.05,927.31 L1557.04,927.31 L1557.02,927.31 L1557.01,927.31Z" fill="#3a3a3a" stroke="#fff" stroke-width="0.6"/>
<path d="M1561.40,880.99 L1561.35,881.24 L1561.30,881.50 L1561.25,881.75 L1561.20,882.01 L1561.15,882.27 L1561.10,882.52 L1561.04,882.78 L1560.99,883.03 L1560.93,883.29 L1560.87,883.54 L1560.81,883.80 L1560.75,884.05 L1560.69,884.31 L1560.63,884.56 L1560.56,884.82 L1560.50,885.07 L1560.43,885.33 L1560.36,885.58 L1560.29,885.84 L1560.22,886.09 L1560.15,886.35 L1560.08,886.60 L1560.00,886.85 L1559.93,887.11 L1554.78,927.31 L1554.85,927.31 L1554.93,927.31 L1555.00,927.31 L1555.07,927.31 L1555.14,927.31 L1555.21,927.31 L1555.27,927.31 L1555.34,927.31 L1555.40,927.31 L1555.46,927.31 L1555.53,927.31 L1555.59,927.31 L1555.65,927.31 L1555.70,927.31 L1555.76,927.31 L1555.82,927.31 L1555.87,927.31 L1555.93,927.31 L1555.98,927.31 L1556.03,927.31 L1556.08,927.31 L1556.13,927.31 L1556.17,927.31 L1556.22,927.31Z" fill="url(#pHs)" stroke="#fff" stroke-width="0.6"/>
<path d="M1559.93,887.11 L1559.55,888.32 L1559.14,889.53 L1558.71,890.73 L1558.25,891.94 L1557.76,893.14 L1557.24,894.34 L1556.69,895.53 L1556.12,896.72 L1555.51,897.91 L1554.88,899.10 L1554.23,900.28 L1553.54,901.46 L1552.83,902.64 L1552.09,903.81 L1551.32,904.98 L1550.52,906.15 L1549.70,907.31 L1548.85,908.46 L1547.98,909.61 L1547.07,910.76 L1546.14,911.90 L1545.19,913.04 L1544.20,914.17 L1543.20,915.30 L1538.42,966.73 L1539.40,965.50 L1540.37,964.26 L1541.30,963.00 L1542.21,961.72 L1543.09,960.44 L1543.95,959.13 L1544.78,957.80 L1545.58,956.46 L1546.36,955.09 L1547.11,953.70 L1547.84,952.28 L1548.53,950.83 L1549.20,949.33 L1549.85,947.80 L1550.46,946.20 L1551.05,944.53 L1551.61,942.77 L1552.15,940.87 L1552.66,938.79 L1553.14,936.38 L1553.59,933.26 L1554.01,927.31 L1554.41,927.31 L1554.78,927.31Z" fill="url(#pIs)" stroke="#fff" stroke-width="0.6"/>
<path d="M1543.20,915.30 L1540.07,918.59 L1536.72,921.82 L1533.16,925.01 L1529.37,928.14 L1525.37,931.20 L1521.16,934.21 L1516.75,937.15 L1512.14,940.02 L1507.33,942.82 L1502.33,945.54 L1497.15,948.19 L1491.79,950.76 L1486.25,953.24 L1480.55,955.64 L1474.68,957.94 L1468.66,960.16 L1462.49,962.29 L1456.18,964.31 L1449.73,966.25 L1443.15,968.08 L1436.45,969.81 L1429.63,971.44 L1422.70,972.96 L1415.68,974.37 L1413.70,1027.56 L1420.58,1026.14 L1427.35,1024.61 L1434.02,1022.97 L1440.57,1021.23 L1447.00,1019.38 L1453.31,1017.43 L1459.49,1015.39 L1465.52,1013.24 L1471.41,1010.99 L1477.15,1008.65 L1482.72,1006.22 L1488.14,1003.70 L1493.38,1001.08 L1498.45,998.38 L1503.34,995.59 L1508.04,992.72 L1512.55,989.77 L1516.87,986.73 L1520.98,983.61 L1524.90,980.41 L1528.60,977.12 L1532.09,973.75 L1535.36,970.29 L1538.42,966.73Z" fill="url(#pJs)" stroke="#fff" stroke-width="0.6"/>
<path d="M1415.68,974.37 L1411.48,975.16 L1407.26,975.90 L1403.01,976.61 L1398.73,977.28 L1394.42,977.92 L1390.09,978.51 L1385.74,979.06 L1381.36,979.58 L1376.96,980.05 L1372.55,980.48 L1368.11,980.88 L1363.67,981.23 L1359.21,981.55 L1354.73,981.82 L1350.25,982.06 L1345.76,982.25 L1341.26,982.40 L1336.76,982.52 L1332.25,982.59 L1327.74,982.62 L1323.23,982.61 L1318.72,982.56 L1314.21,982.47 L1309.71,982.34 L1310.07,1035.46 L1314.47,1035.60 L1318.88,1035.70 L1323.29,1035.75 L1327.70,1035.77 L1332.11,1035.74 L1336.52,1035.68 L1340.92,1035.57 L1345.32,1035.42 L1349.72,1035.23 L1354.10,1035.00 L1358.48,1034.73 L1362.84,1034.42 L1367.19,1034.06 L1371.52,1033.67 L1375.84,1033.24 L1380.14,1032.77 L1384.42,1032.25 L1388.68,1031.70 L1392.92,1031.11 L1397.13,1030.47 L1401.32,1029.80 L1405.47,1029.09 L1409.60,1028.34 L1413.70,1027.56Z" fill="url(#pKs)" stroke="#fff" stroke-width="0.6"/>
<path d="M1309.71,982.34 L1305.22,982.16 L1300.74,981.95 L1296.27,981.70 L1291.81,981.41 L1287.36,981.07 L1282.93,980.70 L1278.52,980.29 L1274.12,979.84 L1269.74,979.35 L1265.38,978.81 L1261.04,978.24 L1256.73,977.63 L1252.44,976.99 L1248.18,976.30 L1243.95,975.58 L1239.75,974.81 L1235.58,974.01 L1231.44,973.18 L1227.34,972.30 L1223.27,971.39 L1219.24,970.44 L1215.25,969.46 L1211.30,968.44 L1207.40,967.38 L1210.01,1020.19 L1213.83,1021.27 L1217.69,1022.31 L1221.59,1023.31 L1225.53,1024.28 L1229.51,1025.21 L1233.52,1026.10 L1237.56,1026.95 L1241.64,1027.77 L1245.75,1028.55 L1249.89,1029.29 L1254.06,1029.99 L1258.25,1030.65 L1262.47,1031.27 L1266.71,1031.85 L1270.97,1032.39 L1275.26,1032.90 L1279.56,1033.36 L1283.88,1033.78 L1288.21,1034.16 L1292.56,1034.50 L1296.93,1034.80 L1301.30,1035.06 L1305.68,1035.28 L1310.07,1035.46Z" fill="url(#pLs)" stroke="#fff" stroke-width="0.6"/>
<path d="M1207.40,967.38 L1204.75,966.64 L1202.13,965.88 L1199.52,965.11 L1196.94,964.32 L1194.38,963.51 L1191.84,962.69 L1189.33,961.86 L1186.84,961.00 L1184.37,960.14 L1181.93,959.25 L1179.51,958.36 L1177.12,957.44 L1174.75,956.52 L1172.41,955.58 L1170.09,954.62 L1167.80,953.65 L1165.54,952.67 L1163.31,951.67 L1161.10,950.66 L1158.92,949.63 L1156.77,948.59 L1154.65,947.54 L1152.56,946.48 L1150.50,945.40 L1154.36,997.57 L1156.38,998.69 L1158.42,999.80 L1160.50,1000.89 L1162.60,1001.96 L1164.73,1003.02 L1166.89,1004.06 L1169.07,1005.09 L1171.28,1006.11 L1173.52,1007.11 L1175.79,1008.09 L1178.08,1009.06 L1180.39,1010.01 L1182.73,1010.95 L1185.10,1011.87 L1187.49,1012.77 L1189.90,1013.66 L1192.34,1014.54 L1194.80,1015.39 L1197.28,1016.23 L1199.78,1017.06 L1202.31,1017.87 L1204.85,1018.66 L1207.42,1019.43 L1210.01,1020.19Z" fill="url(#pMs)" stroke="#fff" stroke-width="0.6"/>
<path d="M1150.50,945.40 L1148.92,944.56 L1147.37,943.71 L1145.83,942.85 L1144.31,941.99 L1142.81,941.12 L1141.33,940.24 L1139.86,939.35 L1138.42,938.46 L1136.99,937.56 L1135.59,936.66 L1134.20,935.74 L1132.84,934.82 L1131.49,933.90 L1130.16,932.97 L1128.86,932.03 L1127.57,931.08 L1126.30,930.13 L1125.06,929.18 L1123.83,928.22 L1122.63,927.25 L1121.44,926.27 L1120.28,925.29 L1119.14,924.31 L1118.02,923.32 L1122.59,974.17 L1123.69,975.25 L1124.81,976.32 L1125.94,977.38 L1127.10,978.43 L1128.28,979.47 L1129.48,980.50 L1130.70,981.52 L1131.93,982.54 L1133.19,983.54 L1134.47,984.54 L1135.77,985.53 L1137.09,986.50 L1138.42,987.47 L1139.78,988.44 L1141.15,989.39 L1142.55,990.33 L1143.96,991.27 L1145.39,992.19 L1146.84,993.11 L1148.31,994.02 L1149.79,994.92 L1151.30,995.82 L1152.82,996.70 L1154.36,997.57Z" fill="url(#pOs)" stroke="#fff" stroke-width="0.6"/>
<path d="M1118.02,923.32 L1116.52,921.96 L1115.06,920.58 L1113.64,919.20 L1112.27,917.81 L1110.93,916.41 L1109.63,915.00 L1108.38,913.58 L1107.17,912.16 L1106.00,910.73 L1104.87,909.29 L1103.78,907.84 L1102.74,906.38 L1101.74,904.92 L1100.78,903.46 L1099.87,901.98 L1099.00,900.50 L1098.17,899.02 L1097.39,897.53 L1096.65,896.03 L1095.95,894.53 L1095.30,893.03 L1094.69,891.52 L1094.13,890.01 L1093.61,888.49 L1098.72,927.31 L1099.23,927.31 L1099.78,927.31 L1100.37,929.45 L1101.01,935.72 L1101.69,939.18 L1102.42,941.99 L1103.18,944.46 L1103.99,946.72 L1104.84,948.84 L1105.74,950.85 L1106.67,952.79 L1107.65,954.65 L1108.67,956.46 L1109.74,958.22 L1110.84,959.94 L1111.98,961.63 L1113.17,963.28 L1114.39,964.91 L1115.66,966.51 L1116.97,968.09 L1118.32,969.64 L1119.70,971.17 L1121.13,972.68 L1122.59,974.17Z" fill="url(#pPs)" stroke="#fff" stroke-width="0.6"/>
<path d="M1326.1,850.8 L1327.70,760.48 A235.7,111.07 0 0 1 1329.00,760.49 Z" fill="#8a8a8a" stroke="#fff" stroke-width="0.8" stroke-linejoin="round"/>
<path d="M1326.1,850.8 L1329.00,760.49 A235.7,111.07 0 0 1 1373.41,762.70 Z" fill="url(#pC)" stroke="#fff" stroke-width="0.8" stroke-linejoin="round"/>
<path d="M1326.1,850.8 L1373.41,762.70 A235.7,111.07 0 0 1 1385.03,763.95 Z" fill="url(#pD)" stroke="#fff" stroke-width="0.8" stroke-linejoin="round"/>
<path d="M1326.1,850.8 L1385.03,763.95 A235.7,111.07 0 0 1 1508.18,800.76 Z" fill="url(#pE)" stroke="#fff" stroke-width="0.8" stroke-linejoin="round"/>
<path d="M1326.1,850.8 L1508.18,800.76 A235.7,111.07 0 0 1 1537.86,822.35 Z" fill="url(#pF)" stroke="#fff" stroke-width="0.8" stroke-linejoin="round"/>
<path d="M1326.1,850.8 L1508.18,800.76 A235.7,111.07 0 0 1 1537.86,822.35 Z" fill="url(#gF)"/>
<path d="M1326.1,850.8 L1537.86,822.35 A235.7,111.07 0 0 1 1561.40,880.99 Z" fill="url(#pG)" stroke="#fff" stroke-width="0.8" stroke-linejoin="round"/>
<path d="M1326.1,850.8 L1561.40,880.99 A235.7,111.07 0 0 1 1559.93,887.11 L1440,875.7 Z" fill="url(#pH)" stroke="#fff" stroke-width="0.8" stroke-linejoin="round"/>
<path d="M1326.1,850.8 L1440,875.7 L1559.93,887.11 A235.7,111.07 0 0 1 1543.20,915.30 Z" fill="url(#pI)" stroke="#fff" stroke-width="0.8" stroke-linejoin="round"/>
<path d="M1326.1,850.8 L1543.20,915.30 A235.7,111.07 0 0 1 1415.68,974.37 Z" fill="url(#pJ)" stroke="#fff" stroke-width="0.8" stroke-linejoin="round"/>
<path d="M1326.1,850.8 L1415.68,974.37 A235.7,111.07 0 0 1 1309.71,982.34 Z" fill="url(#pK)" stroke="#fff" stroke-width="0.8" stroke-linejoin="round"/>
<path d="M1326.1,850.8 L1309.71,982.34 A235.7,111.07 0 0 1 1207.40,967.38 Z" fill="url(#pL)" stroke="#fff" stroke-width="0.8" stroke-linejoin="round"/>
<path d="M1326.1,850.8 L1207.40,967.38 A235.7,111.07 0 0 1 1150.50,945.40 Z" fill="url(#pM)" stroke="#fff" stroke-width="0.8" stroke-linejoin="round"/>
<path d="M1326.1,850.8 L1150.50,945.40 A235.7,111.07 0 0 1 1118.02,923.32 Z" fill="url(#pO)" stroke="#fff" stroke-width="0.8" stroke-linejoin="round"/>
<path d="M1326.1,850.8 L1118.02,923.32 A235.7,111.07 0 0 1 1093.61,888.49 Z" fill="url(#pP)" stroke="#fff" stroke-width="0.8" stroke-linejoin="round"/>
<path d="M1326.1,850.8 L1093.61,888.49 A235.7,111.07 0 0 1 1101.40,838.69 Z" fill="url(#pQ)" stroke="#fff" stroke-width="0.8" stroke-linejoin="round"/>
<path d="M1326.1,850.8 L1101.40,838.69 A235.7,111.07 0 0 1 1242.44,767.79 Z" fill="url(#pR)" stroke="#fff" stroke-width="0.8" stroke-linejoin="round"/>
<path d="M1326.1,850.8 L1242.44,767.79 A235.7,111.07 0 0 1 1285.21,762.20 Z" fill="url(#pS)" stroke="#fff" stroke-width="0.8" stroke-linejoin="round"/>
<path d="M1326.1,850.8 L1285.21,762.20 A235.7,111.07 0 0 1 1296.16,761.41 Z" fill="#1e1e1e" stroke="#fff" stroke-width="0.8" stroke-linejoin="round"/>
<path d="M1326.1,850.8 L1296.16,761.41 A235.7,111.07 0 0 1 1327.70,760.48 Z" fill="url(#pV)" stroke="#fff" stroke-width="0.8" stroke-linejoin="round"/>
<text x="1259.7" y="762.3" font-size="12" text-anchor="middle"  stroke="currentColor" stroke-width="0.35" style="fill:#111">S</text>
<text x="1287.9" y="759.0" font-size="12" text-anchor="middle"  stroke="currentColor" stroke-width="0.35" style="fill:#111">T</text>
<text x="1310.8" y="756.3" font-size="12" text-anchor="middle"  stroke="currentColor" stroke-width="0.35" style="fill:#111">V</text>
<text x="1328.3" y="757.4" font-size="12" text-anchor="middle"  stroke="currentColor" stroke-width="0.35" style="fill:#111">A</text>
<text x="1352.3" y="758.2" font-size="12" text-anchor="middle"  stroke="currentColor" stroke-width="0.35" style="fill:#111">C</text>
<text x="1386.1" y="762.3" font-size="12" text-anchor="middle"  stroke="currentColor" stroke-width="0.35" style="fill:#111">D</text>
<text x="1446.6" y="772.8" font-size="12" text-anchor="middle"  stroke="currentColor" stroke-width="0.35" style="fill:#111">E</text>
<text x="1534.2" y="815.8" font-size="12" text-anchor="middle"  stroke="currentColor" stroke-width="0.35" style="fill:#111">F</text>
<text x="1564.9" y="851.9" font-size="12" text-anchor="middle"  stroke="currentColor" stroke-width="0.35" style="fill:#111">G</text>
<text x="1562.3" y="942.0" font-size="12" text-anchor="middle"  stroke="currentColor" stroke-width="0.35" style="fill:#111">H</text>
<text x="1548.4" y="968.0" font-size="12" text-anchor="middle"  stroke="currentColor" stroke-width="0.35" style="fill:#111">I</text>
<text x="1488.0" y="1016.2" font-size="12" text-anchor="middle"  stroke="currentColor" stroke-width="0.35" style="fill:#111">J</text>
<text x="1360.4" y="1049.0" font-size="12" text-anchor="middle"  stroke="currentColor" stroke-width="0.35" style="fill:#111">K</text>
<text x="1249.0" y="1043.2" font-size="12" text-anchor="middle"  stroke="currentColor" stroke-width="0.35" style="fill:#111">L</text>
<text x="1176.3" y="1024.3" font-size="12" text-anchor="middle"  stroke="currentColor" stroke-width="0.35" style="fill:#111">M</text>
<text x="1131.0" y="995.7" font-size="12" text-anchor="middle"  stroke="currentColor" stroke-width="0.35" style="fill:#111">O</text>
<text x="1096.0" y="953.2" font-size="12" text-anchor="middle"  stroke="currentColor" stroke-width="0.35" style="fill:#111">P</text>
<text x="1085.0" y="868.8" font-size="12" text-anchor="middle"  stroke="currentColor" stroke-width="0.35" style="fill:#111">Q</text>
<text x="1142.7" y="797.8" font-size="12" text-anchor="middle"  stroke="currentColor" stroke-width="0.35" style="fill:#111">R</text>
<text x="1065.8" y="742.0" font-size="24" text-anchor="start" font-weight="bold" stroke="currentColor" stroke-width="0.25" style="">f)</text>
</g></svg>
</body></html>
